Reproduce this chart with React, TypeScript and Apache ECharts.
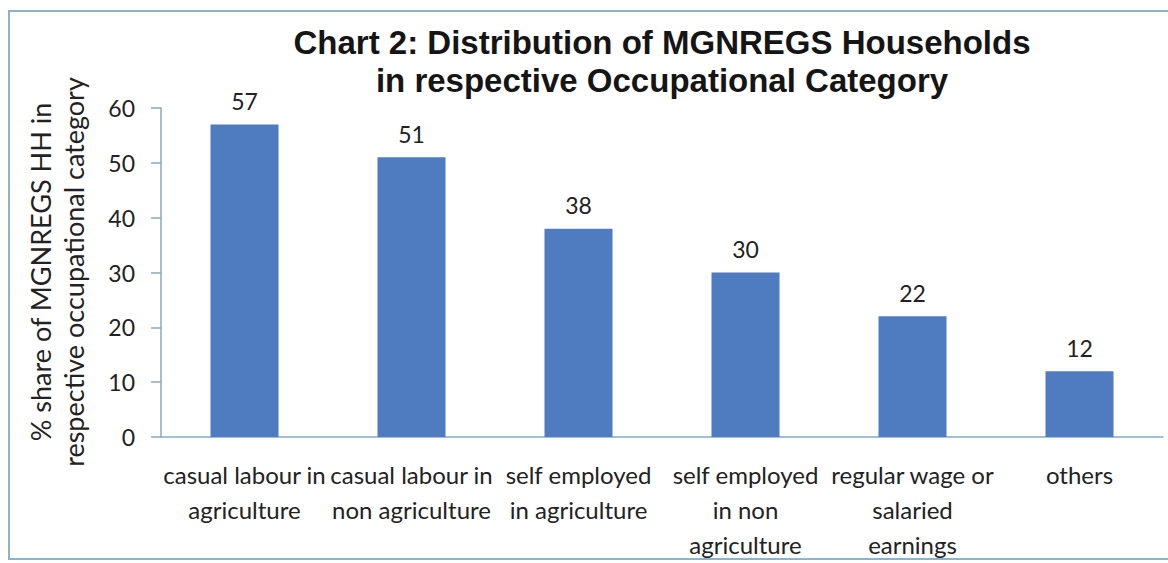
import React, { useEffect, useRef } from "react";
import * as echarts from "echarts";

const categories = [
  "casual labour in\nagriculture",
  "casual labour in\nnon agriculture",
  "self employed\nin agriculture",
  "self employed\nin non\nagriculture",
  "regular wage or\nsalaried\nearnings",
  "others",
];
const shares = [57, 51, 38, 30, 22, 12];
const titleLines = [
  "Chart 2: Distribution of MGNREGS Households",
  "in respective Occupational Category",
];
const yNameLines = ["% share of MGNREGS HH in", "respective occupational category"];

export default function App() {
  const ref = useRef<HTMLDivElement>(null);
  useEffect(() => {
    document.body.style.margin = "0";
    const chart = echarts.init(ref.current!, null, { renderer: "svg" });
    const axisColor = "#86a9c6";
    const textColor = "#222222";
    const font = "Lato";
    chart.setOption({
      animation: false,
      backgroundColor: "#ffffff",
      title: {
        text: titleLines.join("\n"),
        left: 657,
        top: 18,
        textAlign: "center",
        textStyle: {
          fontFamily: "Liberation Sans",
          fontWeight: "bold",
          fontSize: 33,
          lineHeight: 38,
          color: "#151515",
        },
      },
      grid: { left: 161, right: 5, top: 108, bottom: 126 },
      xAxis: {
        type: "category",
        data: categories,
        axisLine: { lineStyle: { color: axisColor, width: 1.5 } },
        axisTick: { length: 9, lineStyle: { color: axisColor, width: 1.5 } },
        axisLabel: {
          interval: 0,
          margin: 20,
          fontFamily: font,
          fontSize: 24,
          lineHeight: 35,
          color: textColor,
        },
      },
      yAxis: {
        type: "value",
        min: 0,
        max: 60,
        interval: 10,
        splitLine: { show: false },
        axisLine: { show: true, lineStyle: { color: axisColor, width: 1.5 } },
        axisTick: { show: true, length: 10, lineStyle: { color: axisColor, width: 1.5 } },
        axisLabel: { margin: 26, fontFamily: font, fontSize: 23, color: textColor },
      },
      series: [
        {
          type: "bar",
          data: shares,
          barWidth: 68,
          itemStyle: { color: "#4f7bc0" },
          label: {
            show: true,
            position: "top",
            distance: 12,
            fontFamily: font,
            fontSize: 23,
            color: textColor,
          },
        },
      ],
      graphic: [
        {
          type: "rect",
          shape: { x: 9, y: 11, width: 1170, height: 548 },
          style: { fill: "none", stroke: "#8db3c9", lineWidth: 2 },
          silent: true,
        },
        {
          type: "text",
          x: 57,
          y: 272,
          rotation: Math.PI / 2,
          style: {
            text: yNameLines.join("\n"),
            fontFamily: font,
            fontSize: 27,
            lineHeight: 33,
            fill: textColor,
            textAlign: "center",
            textVerticalAlign: "middle",
          },
        },
      ],
    });
    return () => chart.dispose();
  }, []);
  return (
    <div
      ref={ref}
      style={{ position: "absolute", left: 0, top: 0, width: 1168, height: 563 }}
    />
  );
}
